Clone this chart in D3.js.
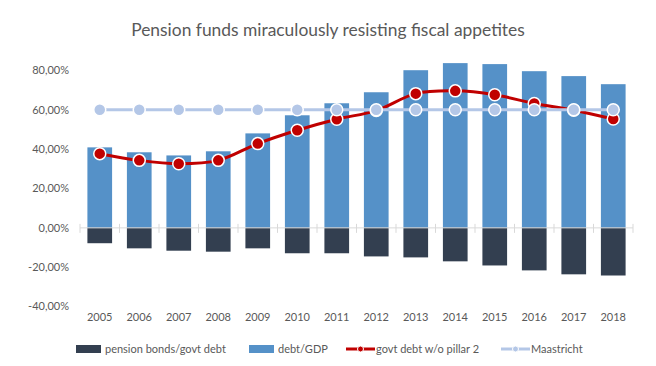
<!DOCTYPE html>
<html lang="en">
<head>
  <meta charset="UTF-8">
  <title>Pension funds miraculously resisting fiscal appetites</title>
  <script src="https://d3js.org/d3.v7.min.js"></script>
  <style>
    body { margin: 0; background: #fff; }
    svg { display: block; font-family: Lato, "Open Sans", sans-serif; }
  </style>
</head>
<body>
  <svg id="chart"></svg>

  <script>
    // data (percent)
    const years = ["2005", "2006", "2007", "2008", "2009", "2010", "2011",
                   "2012", "2013", "2014", "2015", "2016", "2017", "2018"];
    const pensionBonds = [-7.8, -10.4, -11.6, -12.1, -10.4, -12.9, -12.9,
                          -14.5, -15.0, -17.0, -19.1, -21.6, -23.6, -24.2];
    const debtGdp = [40.9, 38.4, 36.8, 38.9, 48.0, 57.2, 63.3,
                     68.9, 80.1, 83.7, 83.2, 79.6, 77.1, 73.0];
    const debtNoPillar2 = [37.7, 34.3, 32.6, 34.3, 42.8, 49.6, 55.2,
                           59.6, 68.2, 69.6, 67.6, 63.2, 59.8, 55.3];
    const maastricht = [60, 60, 60, 60, 60, 60, 60, 60, 60, 60, 60, 60, 60, 60];
    const yTicks = [-40, -20, 0, 20, 40, 60, 80];

    const width = 656, height = 366;
    const svg = d3.select("#chart").attr("width", width).attr("height", height);

    const x = d3.scaleBand().domain(years).range([80, 633])
      .paddingInner(0.375).paddingOuter(0.1875);
    const y = d3.scaleLinear().domain([-40, 80]).range([306.6, 70.4]);

    const fmt = v => d3.format(".2f")(v).replace(".", ",").replace("−", "-") + "%";

    // title
    svg.append("text")
      .attr("x", 328).attr("y", 36)
      .attr("text-anchor", "middle")
      .style("font-size", "17.4px")
      .style("fill", "#595959")
      .text("Pension funds miraculously resisting fiscal appetites");

    // y axis labels
    svg.append("g").selectAll("text")
      .data(yTicks)
      .join("text")
      .attr("x", 69)
      .attr("y", d => y(d))
      .attr("dy", "0.35em")
      .attr("text-anchor", "end")
      .style("font-size", "11px")
      .style("fill", "#595959")
      .text(d => fmt(d));

    // bars
    svg.append("g").selectAll("rect")
      .data(debtGdp)
      .join("rect")
      .attr("x", (d, i) => x(years[i]))
      .attr("width", x.bandwidth())
      .attr("y", d => y(d))
      .attr("height", d => y(0) - y(d))
      .style("fill", "#5591c8");

    svg.append("g").selectAll("rect")
      .data(pensionBonds)
      .join("rect")
      .attr("x", (d, i) => x(years[i]))
      .attr("width", x.bandwidth())
      .attr("y", y(0))
      .attr("height", d => y(d) - y(0))
      .style("fill", "#333f50");

    // category axis at zero with cross ticks
    const axis = svg.append("g");
    axis.append("line")
      .attr("x1", 80).attr("x2", 633)
      .attr("y1", y(0)).attr("y2", y(0))
      .style("stroke", "#d9d9d9").style("stroke-width", 1);
    axis.selectAll("line.tick")
      .data(d3.range(years.length + 1))
      .join("line")
      .attr("class", "tick")
      .attr("x1", i => 80 + i * x.step()).attr("x2", i => 80 + i * x.step())
      .attr("y1", y(0) - 4).attr("y2", y(0) + 5)
      .style("stroke", "#d9d9d9").style("stroke-width", 1);

    // year labels
    svg.append("g").selectAll("text")
      .data(years)
      .join("text")
      .attr("x", d => x(d) + x.bandwidth() / 2)
      .attr("y", 321)
      .attr("text-anchor", "middle")
      .style("font-size", "11px")
      .style("fill", "#595959")
      .text(d => d);

    // lines with markers
    function drawSeries(values, color) {
      const line = d3.line()
        .x((d, i) => x(years[i]) + x.bandwidth() / 2)
        .y(d => y(d))
        .curve(d3.curveCatmullRom.alpha(0.5));
      svg.append("path")
        .datum(values)
        .attr("d", line)
        .style("fill", "none")
        .style("stroke", color)
        .style("stroke-width", 3);
      svg.append("g").selectAll("circle")
        .data(values)
        .join("circle")
        .attr("cx", (d, i) => x(years[i]) + x.bandwidth() / 2)
        .attr("cy", d => y(d))
        .attr("r", 6)
        .style("fill", color)
        .style("stroke", "#fff")
        .style("stroke-width", 1.5);
    }
    drawSeries(debtNoPillar2, "#c00000");
    drawSeries(maastricht, "#b4c7e7");

    // legend
    const legend = svg.append("g").style("font-size", "11px").style("fill", "#595959");
    const ly = 349;
    legend.append("rect").attr("x", 76).attr("y", ly - 4).attr("width", 25).attr("height", 8).style("fill", "#333f50");
    legend.append("text").attr("x", 105).attr("y", ly).attr("dy", "0.35em").text("pension bonds/govt debt");
    legend.append("rect").attr("x", 249).attr("y", ly - 4).attr("width", 25).attr("height", 8).style("fill", "#5591c8");
    legend.append("text").attr("x", 278).attr("y", ly).attr("dy", "0.35em").text("debt/GDP");

    function lineKey(x0, color, label) {
      legend.append("line").attr("x1", x0).attr("x2", x0 + 29).attr("y1", ly).attr("y2", ly)
        .style("stroke", color).style("stroke-width", 3);
      legend.append("circle").attr("cx", x0 + 14.5).attr("cy", ly).attr("r", 3)
        .style("fill", color).style("stroke", "#fff").style("stroke-width", 1);
      legend.append("text").attr("x", x0 + 30).attr("y", ly).attr("dy", "0.35em").text(label);
    }
    lineKey(346, "#c00000", "govt debt w/o pillar 2");
    lineKey(501, "#b4c7e7", "Maastricht");
  </script>
</body>
</html>
